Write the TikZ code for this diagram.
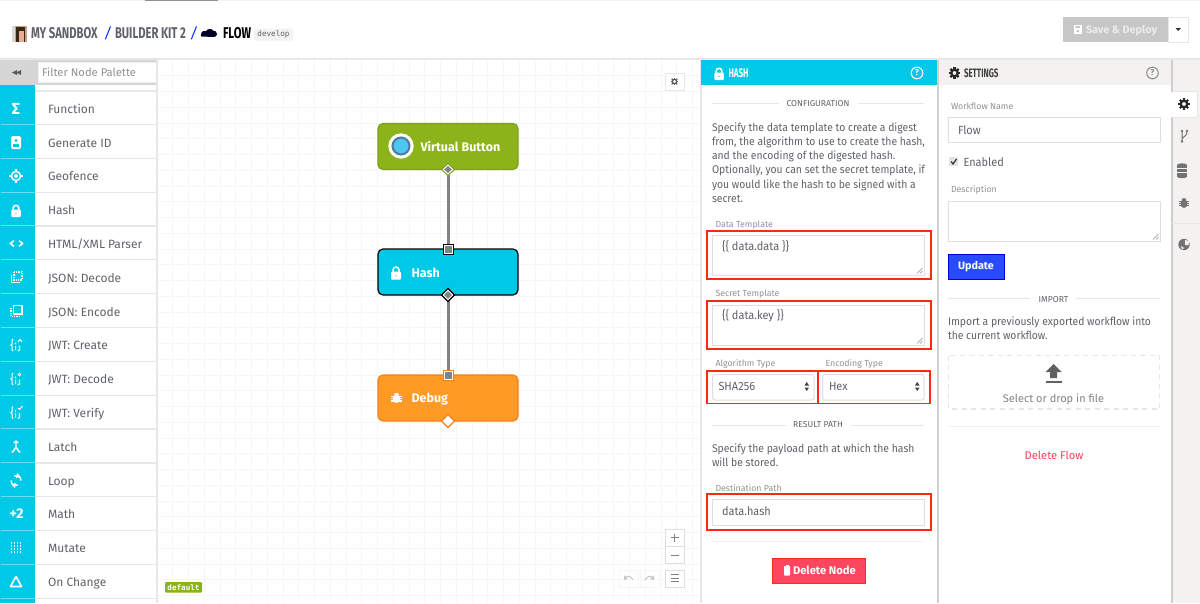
\documentclass[tikz,border=0pt]{standalone}
\usepackage{fontspec}
\setmainfont{Fira Sans}
\newfontfamily\cond[FakeStretch=0.72]{Fira Sans}
\newfontfamily\condt[FakeStretch=0.65]{Fira Sans}
\newfontfamily\narrow[FakeStretch=0.93]{Fira Sans}
\newfontfamily\mono{DejaVu Sans Mono}
\usetikzlibrary{calc}
\definecolor{cy}{HTML}{00C9E8}
\definecolor{txt}{HTML}{5F6369}
\definecolor{lab}{HTML}{8F9398}
\definecolor{rulec}{HTML}{E6E7E8}
\definecolor{pan}{HTML}{F3F2F1}
\definecolor{redb}{HTML}{FA2A10}
\definecolor{inb}{HTML}{DDDEE0}
\definecolor{wirec}{HTML}{808285}
\definecolor{gridc}{HTML}{F6F6F6}
\definecolor{edgec}{HTML}{CFCFCF}
\definecolor{greenf}{HTML}{8DB31A}
\definecolor{greene}{HTML}{7F9F1C}
\definecolor{orangef}{HTML}{FF9A24}
\definecolor{orangee}{HTML}{F08020}
\tikzset{
  x=1pt,y=-1pt,
  every node/.style={inner sep=0pt,outer sep=0pt},
  pal/.style={anchor=base west,font=\fontsize{12}{12}\selectfont,text=txt},
  body/.style={anchor=north west,align=left,font=\narrow\fontsize{11.15}{14.25}\selectfont,text=txt},
  flab/.style={anchor=west,font=\fontsize{8.8}{10}\selectfont,text=lab},
  fval/.style={anchor=west,font=\narrow\fontsize{11.8}{12}\selectfont,text=txt},
  sect/.style={font=\fontsize{8.6}{10}\selectfont,text=txt},
  inbox/.style={draw=inb,line width=1pt,fill=white},
  redbox/.style={draw=redb,line width=1.6pt},
  flow/.style={rounded corners=5pt,line width=1.2pt,minimum width=140pt,minimum height=46pt},
  flowline/.style={draw=wirec,line width=3pt},
  lockic/.pic={\fill[even odd rule,rounded corners=1pt] (-5,-1) rectangle (5,7) (-.9,2.2) rectangle (.9,4.2);
     \draw[line width=1.5pt,fill=none] (-3,-.5) -- (-3,-2.5) .. controls (-3,-6.5) and (3,-6.5) .. (3,-2.5) -- (3,-.5);},
  gearic/.pic={\draw[line width=2.2pt,fill=none] (0,0) circle (3.4);
     \foreach \a in {0,45,...,315}{\draw[line width=2.2pt,fill=none] (\a:3.8) -- (\a:6);}},
  gearsm/.pic={\draw[line width=1.2pt,fill=none] (0,0) circle (2.2);
     \foreach \a in {0,45,...,315}{\draw[line width=1.1pt,fill=none] (\a:2.4) -- (\a:3.9);}},
  bugic/.pic={\fill (0,.8) ellipse (4.2 and 5);\fill (0,-3.8) ellipse (2.6 and 1.9);
     \foreach \yy in {-1.6,.8,3.4}{\draw[line width=1.1pt,fill=none] (-6,\yy) -- (6,\yy);}},
  ringic/.pic={\draw[line width=1.5pt,fill=none] (0,0) circle (4.6);\fill (0,0) circle (2);
     \foreach \a in {0,90,180,270}{\draw[line width=1.2pt,fill=none] (\a:4.6) -- (\a:6.6);}},
  helpic/.pic={\draw[line width=1pt,fill=none] (0,0) circle (5.8);\node[font=\fontsize{8.5}{9}\selectfont\bfseries] {?};},
}
\begin{document}
\begin{tikzpicture}
\useasboundingbox (0,0) rectangle (1200,603);
\fill[white] (0,0) rectangle (1200,603);
% top rule
\fill[rulec!50] (0,0) rectangle (1200,1);
\fill[edgec!70!black] (145,0) rectangle (218,1);
\fill[rulec] (0,58) rectangle (1200,60);
% grid
\begin{scope}
\clip (158,60) rectangle (700,603);
\foreach \i in {1,...,34}{\draw[gridc,line width=.7pt] ({157+15.75*\i},60) -- ({157+15.75*\i},603);}
\foreach \i in {1,...,34}{\draw[gridc,line width=.7pt] (158,{60+15.75*\i}) -- (700,{60+15.75*\i});}
\end{scope}
% breadcrumb
\fill[black!20!brown!60] (12,26) rectangle (27,42);
\fill[gray!30] (12,26) rectangle (15,42);
\fill[black!70!brown] (16,27) rectangle (25,42);
\fill[red!30!brown!50!white] (19,31) rectangle (24,42);
\tikzset{crumb/.style={anchor=west,font=\fontsize{15.6}{16}\selectfont\cond\bfseries},crumbs/.style={anchor=west,font=\fontsize{14.5}{15}\selectfont\itshape,text=blue!85!cyan}}
\node[crumb,text=txt] (c1) at (31,33.5) {MY SANDBOX};
\node[crumbs] (s1) at (104,33.5) {/};
\node[crumb,text=txt] (c2) at (115,33.5) {BUILDER KIT 2};
\node[crumbs] (s2) at (190,33.5) {/};
\fill[black!85!blue] (201.5,36.5) to[out=180,in=-90] (201.5,32.5) to[out=90,in=180] (206,31) to[out=60,in=120] (213,30.5) to[out=0,in=90] (217,34) to[out=-90,in=0] (214,37) -- cycle;
\node[crumb,text=black] (c3) at (223,33.5) {FLOW};
\fill[pan,rounded corners=1.5pt] (254,28.5) rectangle (293,40.5);
\node[font=\fontsize{7.6}{8}\selectfont\mono,text=txt] (dev) at (273.5,34.5) {develop};
% save
\fill[black!22] (1063,17) rectangle (1168,42);
\fill[white] (1073.5,25) rectangle (1082,33.5);
\fill[black!22] (1075.5,26) rectangle (1080,28) (1076.5,30) rectangle (1079,32);
\node[anchor=west,font=\fontsize{10.8}{12}\selectfont\bfseries,text=white!85!gray] (sd) at (1086,30.5) {Save \& Deploy};
\draw[rulec,fill=white,line width=1pt] (1168,17) rectangle (1188,42);
\fill[black!80] (1175.5,28) -- (1181,28) -- (1178.2,31) -- cycle;
% palette
\fill[black!16] (0,60) rectangle (157,85);
\draw[inb!50,fill=white,line width=1pt] (38,62) rectangle (156,82);
\node[anchor=west,font=\fontsize{11.2}{12}\selectfont,text=lab] (filt) at (42,72) {Filter Node Palette};
\fill[black!65] (17,70) -- (12,72.5) -- (17,75) -- cycle (21,70) -- (16.5,72.5) -- (21,75) -- cycle;
\fill[cy] (0,85) rectangle (35,603);
\fill[white] (35,85) rectangle (156,603);
\fill[rulec] (156,60) rectangle (158,603);
\fill[rulec] (35,90) rectangle (156,92);
\foreach \t [count=\k from 0] in {Function,Generate ID,Geofence,Hash,HTML/XML Parser,JSON: Decode,JSON: Encode,JWT: Create,JWT: Decode,JWT: Verify,Latch,Loop,Math,Mutate,On Change}{
  \node[pal] (p\k) at (48,{113.3+\k*33.8}) {\t};
  \fill[rulec] (35,{123.9+\k*33.84}) rectangle (156,{125.1+\k*33.84});
  \fill[white!40!cy] (1,{123.9+\k*33.84}) rectangle (35,{124.9+\k*33.84});
}
\tikzset{pw/.style={font=\fontsize{14}{14}\selectfont\bfseries,text=white}}
\node[pw,font=\fontsize{16}{16}\selectfont\bfseries] (i0) at (16,109) {Σ};
% id card
\fill[white,rounded corners=1.5pt] (11,136) rectangle (21,149);
\fill[cy] (16,140.5) circle (1.7);\fill[cy] (12.8,146.5) rectangle (19.2,144);
% geofence
\pic[white] at (16,176) {ringic};
\pic[white,scale=.95] at (16,210.5) {lockic};
% html
\draw[white,line width=1.5pt] (14,240.5) -- (10.5,243.5) -- (14,246.5) (19,240.5) -- (22.5,243.5) -- (19,246.5);
% json decode
\draw[white,line width=1.2pt,dash pattern=on 1.4pt off 1pt] (14,272) rectangle (22,280);
\draw[white,line width=1.6pt] (11.5,274.5) -- (11.5,282.5) -- (19.5,282.5);
% json encode
\draw[white,line width=1.5pt] (13.5,305.5) rectangle (22,314);
\draw[white,line width=1.1pt,dash pattern=on 1.2pt off 1.1pt] (11,308) -- (11,316.5) -- (19.5,316.5);
% jwt
\foreach \yy in {345,379,412.5}{
 \draw[white,line width=1.1pt] (13,\yy-6) .. controls (10.8,\yy-6) and (13.6,\yy) .. (11,\yy) .. controls (13.6,\yy) and (10.8,\yy+6) .. (13,\yy+6);
 \fill[white] (15.5,\yy-1.5) circle (.8) (15,\yy+.9) rectangle (16.1,\yy+5);
 \draw[white,line width=1.1pt] (19.5,\yy+.5) -- (19.5,\yy+5) -- (17.8,\yy+6);
}
\draw[white,line width=1pt] (18,342) -- (20,339.5) -- (22,342);
\draw[white,line width=.8pt] (19.5,374.5) circle (1.4);
\draw[white,line width=1pt] (18,408) -- (19.5,409.5) -- (22.5,406);
% latch
\draw[white,line width=1.4pt] (16,442) -- (16,447.5) -- (12,452.5) (16,447.5) -- (20,452.5);
\fill[white] (13,443) -- (16,440) -- (19,443) -- cycle;
% loop
\draw[white,line width=1.5pt] (11,480.5) arc[start angle=180,end angle=70,radius=5];
\draw[white,line width=1.5pt] (21,480.5) arc[start angle=0,end angle=-110,radius=5];
\fill[white] (17,473) -- (20.5,476.5) -- (16,478) -- cycle (15,488) -- (11.5,484.5) -- (16,483) -- cycle;
\node[pw] (i12) at (16.5,514) {+2};
% mutate
\foreach \a in {-4.5,-1.5,1.5,4.5}{\foreach \b in {-4.5,-1.5,1.5,4.5}{\fill[white] (16+\a-.9,547.5+\b-.9) rectangle (16+\a+.9,547.5+\b+.9);}}
% on change
\draw[white,line width=1.6pt,line join=round] (16,576.5) -- (21.5,586.5) -- (10.5,586.5) -- cycle;
% default tag
\fill[greenf,rounded corners=1pt] (165,582) rectangle (202,592.5);
\node[font=\fontsize{7.6}{8}\selectfont\mono\bfseries,text=white] (deft) at (183.5,587.2) {default};
% canvas buttons
\draw[rulec,fill=white,line width=1pt] (665,73) rectangle (684,90);
\pic[black!65] at (674.5,81.5) {gearsm};
\draw[inb,fill=white,line width=1pt] (665,529) rectangle (684,546.5) (665,546.5) rectangle (684,563.5) (665,570) rectangle (684,587);
\draw[black!50,line width=.9pt] (670.5,537.5) -- (678.5,537.5) (674.5,533.5) -- (674.5,541.5) (670.5,555) -- (678.5,555);
\draw[black!50,line width=1pt] (670.5,574.8) -- (679,574.8) (670.5,578.2) -- (679,578.2) (670.5,581.6) -- (679,581.6);
\draw[gridc,line width=.7pt] (619,570) rectangle (638,587) (640,570) rectangle (659,587);
\draw[black!22,line width=1pt] (625,578) .. controls (627,575) and (631,576) .. (633,580) (653,578) .. controls (651,575) and (647,576) .. (645,580);
\fill[black!22] (624,575) -- (624,580) -- (628,579) -- cycle (654,575) -- (654,580) -- (650,579) -- cycle;
% flow nodes
\node[flow,fill=greenf,draw=greene] (vb) at (448,146.5) {};
\fill[fill=white] (401,146) circle (12.7);
\draw[draw=cyan!50!black!95,fill=cyan!70!white,line width=2pt] (401,146) circle (8.5);
\node[anchor=west,font=\fontsize{12.5}{13}\selectfont\bfseries,text=white] (vbt) at (420.5,146.5) {Virtual Button};
\node[flow,fill=cy,draw=black] (hs) at (448,272) {};
\pic[white] at (396,272.5) {lockic};
\node[anchor=west,font=\fontsize{12.5}{13}\selectfont\bfseries,text=white] (hst) at (411.5,272.5) {Hash};
\node[flow,fill=orangef,draw=orangee] (dbg) at (448,398) {};
\pic[white,scale=.88] at (396.5,398) {bugic};
\node[anchor=west,font=\fontsize{12.5}{13}\selectfont\bfseries,text=white] (dbgt) at (411.5,399.5) {Debug};
% ports
\coordinate (o1) at (vb.south);
\coordinate (i2) at (hs.north);
\coordinate (o2) at (hs.south);
\coordinate (i3) at (dbg.north);
\coordinate (o3) at (dbg.south);
\draw[flowline] (o1) -- (i2);
\draw[flowline] (o2) -- (i3);
\draw[fill=white,draw=greene,line width=1pt] ($(o1)+(0,-6)$) -- ($(o1)+(6.5,0)$) -- ($(o1)+(0,6)$) -- ($(o1)+(-6.5,0)$) -- cycle;
\fill[wirec] ($(o1)+(0,-3.5)$) -- ($(o1)+(3.8,0)$) -- ($(o1)+(0,3.5)$) -- ($(o1)+(-3.8,0)$) -- cycle;
\draw[fill=white,draw=black,line width=1pt] ($(i2)+(-5,-5)$) rectangle ($(i2)+(5,5)$);
\fill[wirec] ($(i2)+(-3.5,-3.5)$) rectangle ($(i2)+(3.5,3.5)$);
\draw[fill=white,draw=black,line width=1.1pt] ($(o2)+(0,-6.5)$) -- ($(o2)+(6.5,0)$) -- ($(o2)+(0,6.5)$) -- ($(o2)+(-6.5,0)$) -- cycle;
\fill[wirec] ($(o2)+(0,-3.8)$) -- ($(o2)+(4,0)$) -- ($(o2)+(0,3.8)$) -- ($(o2)+(-4,0)$) -- cycle;
\draw[fill=white,draw=orangee,line width=1pt] ($(i3)+(-5,-5)$) rectangle ($(i3)+(5,5)$);
\fill[wirec] ($(i3)+(-3.5,-3.5)$) rectangle ($(i3)+(3.5,3.5)$);
\draw[fill=white,draw=orangee,line width=1.1pt] ($(o3)+(0,-6.5)$) -- ($(o3)+(6.5,0)$) -- ($(o3)+(0,6.5)$) -- ($(o3)+(-6.5,0)$) -- cycle;
% hash panel
\fill[white] (701,60) rectangle (937,603);
\fill[rulec] (700,60) rectangle (702,603);
\fill[edgec] (937,60) rectangle (938.5,603);
\fill[cy] (701,60) rectangle (937,85);
\pic[white,scale=.95] at (719,73.5) {lockic};
\node[anchor=west,font=\fontsize{12.4}{12}\selectfont\condt\bfseries,text=white] (ht) at (728.5,73.5) {HASH};
\pic[white] at (917,73) {helpic};
\draw[rulec,line width=1pt] (712,103) -- (779,103) (858,103) -- (924,103);
\node[sect] (cfg) at (818,103.5) {CONFIGURATION};
\node[body] (bd1) at (712,122.5) {Specify the data template to create a digest\\from, the algorithm to use to create the hash,\\and the encoding of the digested hash.\\Optionally, you can set the secret template, if\\you would like the hash to be signed with a\\secret.};
\node[flab] (l1) at (715.5,225.5) {Data Template};
\draw[inbox] (712.5,235) rectangle (924,275);
\node[fval] (v1) at (722,246.5) {\{\{ data.data \}\}};
\draw[black!45,line width=.5pt] (917,273.5) -- (922.5,268) (920,273.5) -- (922.5,271);
\draw[redbox] (707,231) rectangle (931,279);
\node[flab] (l2) at (715.5,294.5) {Secret Template};
\draw[inbox] (712.5,305) rectangle (924,345);
\node[fval] (v2) at (722,316) {\{\{ data.key \}\}};
\draw[black!45,line width=.5pt] (917,343.5) -- (922.5,338) (920,343.5) -- (922.5,341);
\draw[redbox] (707,301) rectangle (931,349);
\node[flab] (l3) at (715.5,363.5) {Algorithm Type};
\node[flab] (l4) at (825.5,363.5) {Encoding Type};
\draw[inbox,rounded corners=2.5pt] (712.5,374.5) rectangle (814,400);
\draw[inbox,rounded corners=2.5pt] (822.5,374.5) rectangle (924,400);
\node[fval] (v3) at (718.5,386.5) {SHA256};
\node[fval] (v4) at (829,386.5) {Hex};
\fill[black!75] (804.5,385.5) -- (809,385.5) -- (806.7,382) -- cycle (804.5,387.5) -- (809,387.5) -- (806.7,391) -- cycle;
\fill[black!75] (915,385.5) -- (919.5,385.5) -- (917.2,382) -- cycle (915,387.5) -- (919.5,387.5) -- (917.2,391) -- cycle;
\draw[redbox] (707,371) rectangle (818,403.5);
\draw[redbox] (818,371) rectangle (930,403.5);
\draw[rulec,line width=1pt] (712,425) -- (786,425) (851,425) -- (924,425);
\node[sect] (rp) at (818,424.5) {RESULT PATH};
\node[body] (bd2) at (712,444) {Specify the payload path at which the hash\\will be stored.};
\node[flab] (l5) at (715.5,488) {Destination Path};
\draw[inbox] (712.5,499) rectangle (924,525);
\node[fval] (v5) at (722,511) {data.hash};
\draw[redbox] (707,494) rectangle (931,530);
\draw[rulec!60,line width=1pt] (712,541.5) -- (924,541.5);
\draw[draw=red!80!pink,line width=.8pt,fill={rgb,255:red,255;green,70;blue,95}] (772,558) rectangle (865,583);
\fill[white,rounded corners=.6pt] (784,566) rectangle (790,575.5);
\fill[white] (785.5,565) rectangle (788.5,566);
\node[anchor=west,font=\fontsize{11.2}{12}\selectfont\bfseries,text=white] (dn) at (793,570.5) {Delete Node};
% settings panel
\fill[pan] (938.5,60) rectangle (1172,85);
\pic[black!85,scale=.95] at (954.5,73) {gearic};
\node[anchor=west,font=\fontsize{12.2}{12}\selectfont\condt\bfseries,text=black!75] (st) at (964,73.5) {SETTINGS};
\pic[black!45] at (1152.5,73) {helpic};
\node[flab] (l6) at (951,106) {Workflow Name};
\draw[inbox] (948.5,117) rectangle (1160,142);
\node[fval] (v6) at (958,130) {Flow};
\fill[inb!85] (949,157) rectangle (958,166);
\draw[black!85,line width=1.1pt] (951,161.5) -- (953,164) -- (956.5,159);
\node[fval] (en) at (963.5,162) {Enabled};
\node[flab] (l7) at (951,190.5) {Description};
\draw[inbox] (948.5,201) rectangle (1160,241);
\draw[black!45,line width=.5pt] (1153,239.5) -- (1158.5,234) (1156,239.5) -- (1158.5,237);
\draw[draw=blue!90!black,fill={rgb,255:red,40;green,75;blue,255},line width=.8pt] (948,254) rectangle (1004,279);
\node[font=\fontsize{10.8}{12}\selectfont\bfseries,text=white] (up) at (976,266.5) {Update};
\draw[rulec,line width=1pt] (948,298) -- (1030,298) (1076,298) -- (1160,298);
\node[sect] (imp) at (1053.5,299.5) {IMPORT};
\node[body] (bd3) at (948,317) {Import a previously exported workflow into\\the current workflow.};
\draw[rulec,line width=1.3pt,dash pattern=on 5pt off 4.5pt] (948.5,355.5) rectangle (1159.5,409);
\fill[black!62] (1053.5,364) -- (1061.5,372) -- (1057,372) -- (1057,378) -- (1050,378) -- (1050,372) -- (1045.5,372) -- cycle;
\fill[black!62] (1045.5,380.5) rectangle (1062,382.5);
\node[font=\fontsize{11}{12}\selectfont,text=lab!90!black] (sel) at (1053.5,399) {Select or drop in file};
\draw[rulec!60,line width=1pt] (948,426) -- (1160,426);
\node[font=\fontsize{11.2}{12}\selectfont,text={rgb,255:red,250;green,65;blue,90}] (df) at (1054,455) {Delete Flow};
% sidebar
\fill[pan] (1172,60) rectangle (1200,603);
\fill[edgec] (1171,60) rectangle (1172.5,603);
\fill[rulec] (1172,222.5) rectangle (1200,223.5);
\fill[rulec] (1172.5,91) rectangle (1197.5,117.5);
\fill[white] (1171,92) rectangle (1196.5,116.5);
\pic[black!85,scale=.95] at (1184,104) {gearic};
% branch
\draw[black!55,line width=1pt] (1182,132) -- (1182,141) (1187,132) .. controls (1187,137) and (1182,136) .. (1182,140);
\fill[black!55] (1182,131) circle (1.3) (1187,131) circle (1.3) (1182,141.5) circle (1.3);
% database
\fill[black!55] (1177,165) rectangle (1187,176.5);
\draw[pan,line width=.8pt] (1177,168.5) -- (1187,168.5) (1177,172.5) -- (1187,172.5);
\fill[black!55] (1182,165) ellipse (5 and 1.7) (1182,176.5) ellipse (5 and 1.7);
\pic[black!55,scale=.85] at (1184,203) {bugic};
% globe
\fill[black!55] (1184,244.5) circle (5.7);
\fill[pan] (1185,240) -- (1189,241) -- (1188.5,245) -- (1185,245) -- cycle (1181,246) -- (1184,248) -- (1182,249.5) -- cycle;
\end{tikzpicture}
\end{document}
